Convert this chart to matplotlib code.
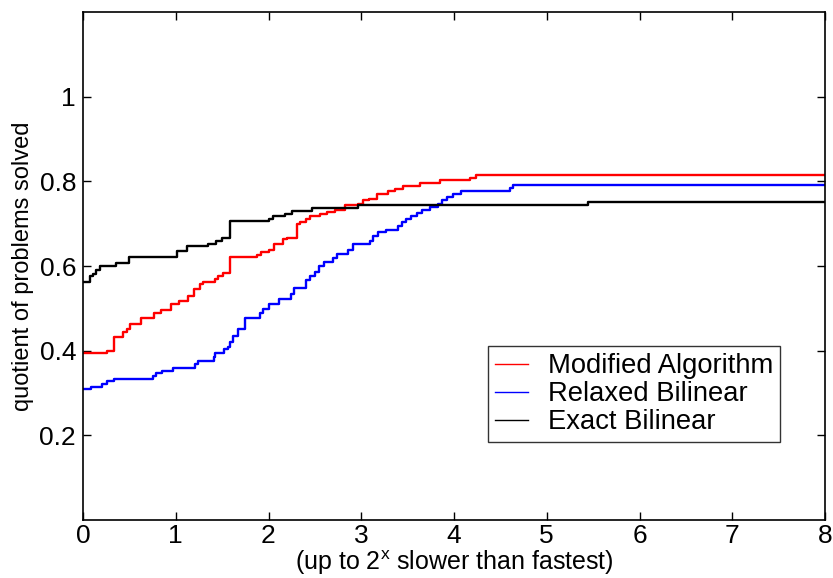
import numpy as np
import matplotlib
matplotlib.use('Agg')
from matplotlib import pyplot as plt

plt.rcParams['font.family'] = ['Liberation Sans', 'DejaVu Sans']

# step positions (log2 of ratio) and fraction of problems solved
x_mod = [0, 0.26, 0.30, 0.33, 0.43, 0.47, 0.51, 0.63, 0.77, 0.84, 0.95, 1.04, 1.13, 1.20, 1.26,
         1.29, 1.42, 1.46, 1.51, 1.59, 1.88, 1.92, 2.00, 2.06, 2.16, 2.20, 2.31, 2.34, 2.40, 2.45,
         2.56, 2.63, 2.72, 2.82, 2.97, 3.02, 3.08, 3.17, 3.29, 3.36, 3.45, 3.63, 3.85, 4.17, 4.24, 8]
y_mod = [0.395, 0.40, 0.40, 0.433, 0.445, 0.452, 0.464, 0.478, 0.489, 0.496, 0.51, 0.518, 0.529, 0.545, 0.557,
         0.563, 0.569, 0.576, 0.584, 0.621, 0.627, 0.634, 0.638, 0.653, 0.664, 0.667, 0.70, 0.704, 0.711, 0.717,
         0.722, 0.727, 0.732, 0.744, 0.747, 0.755, 0.759, 0.77, 0.776, 0.783, 0.79, 0.796, 0.803, 0.809, 0.816, 0.816]

x_rel = [0, 0.09, 0.20, 0.26, 0.33, 0.75, 0.79, 0.85, 0.97, 1.21, 1.24, 1.41, 1.42, 1.52, 1.56, 1.59,
         1.62, 1.67, 1.75, 1.91, 1.94, 2.01, 2.11, 2.24, 2.27, 2.40, 2.45, 2.50, 2.54, 2.60, 2.70, 2.74,
         2.86, 2.91, 3.09, 3.13, 3.18, 3.27, 3.40, 3.44, 3.48, 3.54, 3.60, 3.65, 3.74, 3.83, 3.87, 3.92,
         3.99, 4.08, 4.60, 4.64, 8]
y_rel = [0.309, 0.315, 0.322, 0.328, 0.334, 0.341, 0.348, 0.353, 0.359, 0.369, 0.375, 0.384, 0.394, 0.404, 0.409, 0.42,
         0.435, 0.452, 0.478, 0.489, 0.498, 0.511, 0.523, 0.535, 0.549, 0.568, 0.576, 0.586, 0.60, 0.61, 0.618, 0.629,
         0.637, 0.653, 0.66, 0.671, 0.681, 0.686, 0.694, 0.704, 0.71, 0.718, 0.725, 0.732, 0.739, 0.747, 0.757, 0.762,
         0.769, 0.776, 0.784, 0.791, 0.791]

x_ex = [0, 0.08, 0.11, 0.14, 0.18, 0.36, 0.50, 1.01, 1.12, 1.35, 1.43, 1.50, 1.59, 2.00, 2.05, 2.18,
        2.25, 2.47, 2.97, 5.44, 8]
y_ex = [0.562, 0.576, 0.58, 0.59, 0.60, 0.607, 0.621, 0.635, 0.648, 0.653, 0.66, 0.667, 0.706, 0.711, 0.717, 0.723,
        0.731, 0.737, 0.745, 0.751, 0.751]

labels = ['Modified Algorithm', 'Relaxed Bilinear', 'Exact Bilinear']

fig = plt.figure(figsize=(8.33, 5.78), dpi=100)
ax = fig.add_axes([83/833, 58/578, 742/833, 508/578])

ax.plot(x_mod, y_mod, color='red', lw=1.7, drawstyle='steps-post', label=labels[0])
ax.plot(x_rel, y_rel, color='blue', lw=1.7, drawstyle='steps-post', label=labels[1])
ax.plot(x_ex, y_ex, color='black', lw=1.7, drawstyle='steps-post', label=labels[2])

ax.set_xlim(0, 8)
ax.set_ylim(0, 1.2)
ax.set_xticks(range(0, 9))
ax.set_yticks([0.2, 0.4, 0.6, 0.8, 1.0])
ax.set_yticklabels(['0.2', '0.4', '0.6', '0.8', '1'])
ax.tick_params(direction='in', top=True, right=True, labelsize=19, length=6, width=1, pad=5)
ax.tick_params(axis='x', pad=3)
for s in ax.spines.values():
    s.set_linewidth(1.2)

ax.set_xlabel('(up to 2$^{\\mathregular{x}}$ slower than fastest)', fontsize=18, labelpad=0)
ax.set_ylabel('quotient of problems solved', fontsize=17, labelpad=4)

leg = ax.legend(loc='upper left', bbox_to_anchor=(0.546, 0.342), fontsize=19.7, frameon=True,
                fancybox=False, edgecolor='black', handlelength=1.2, borderpad=0.25,
                labelspacing=0.08, handletextpad=0.75, borderaxespad=0)
leg.get_frame().set_linewidth(1.0)
for l in leg.get_lines():
    l.set_linewidth(1.0)

fig.savefig('out.png', dpi=100)
